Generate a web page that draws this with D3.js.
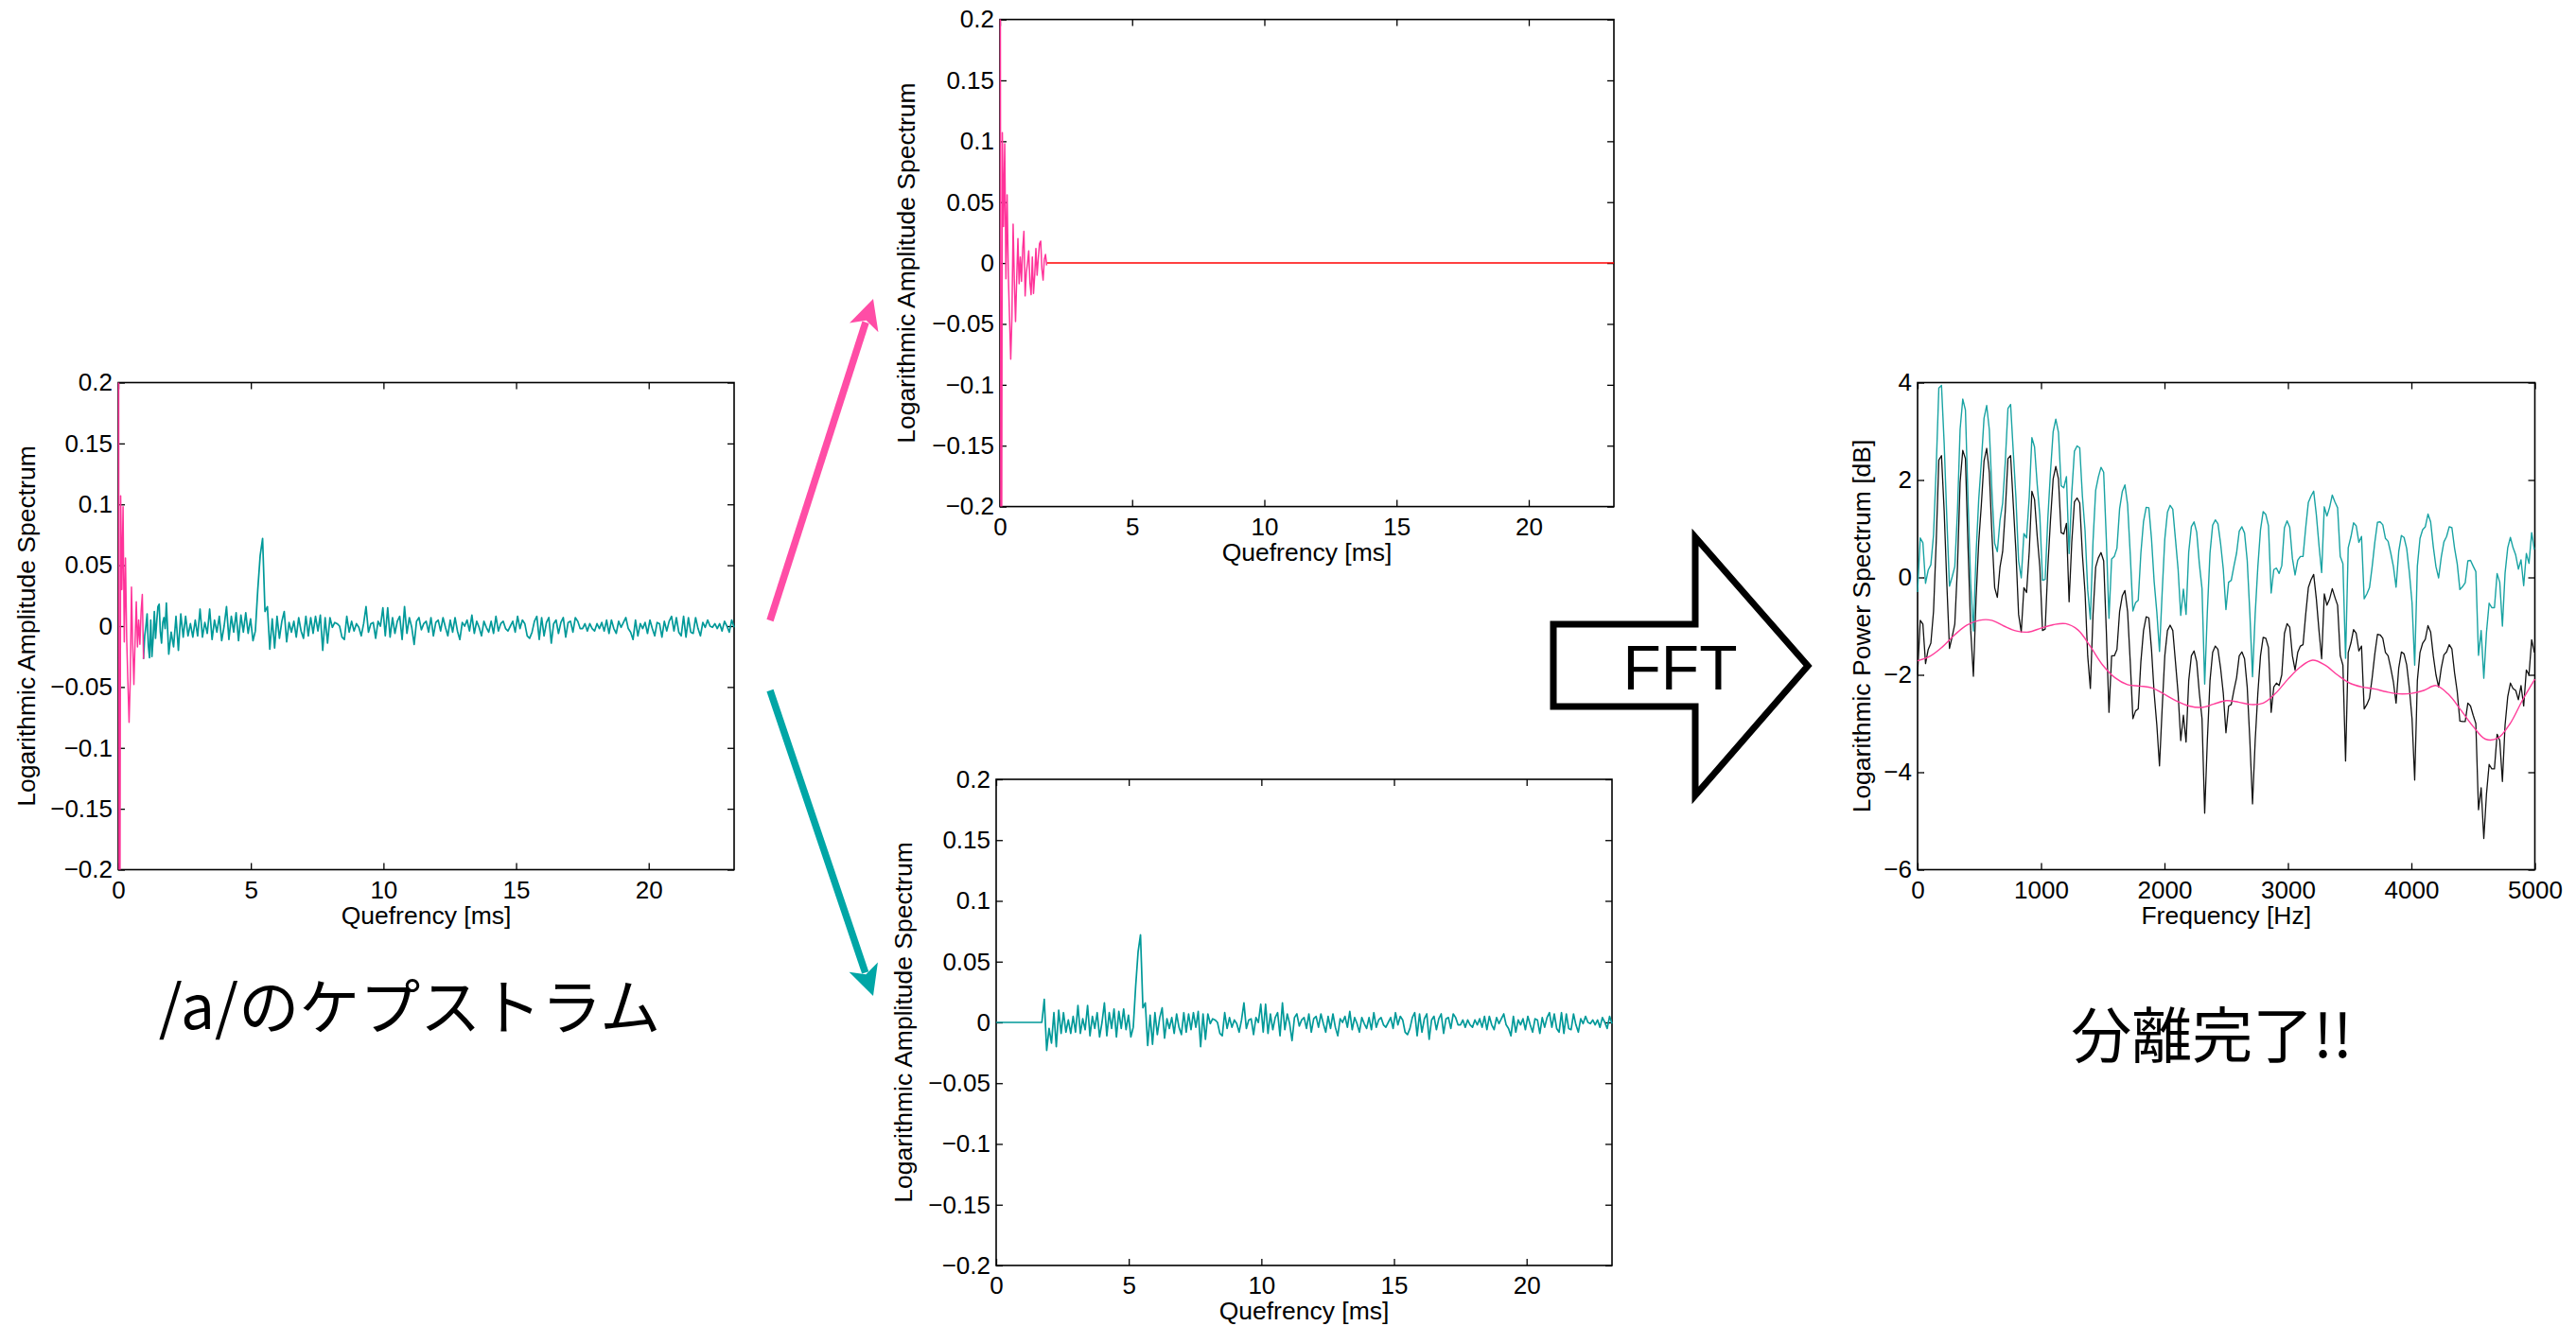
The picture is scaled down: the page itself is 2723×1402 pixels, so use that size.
<!DOCTYPE html>
<html>
<head>
<meta charset="utf-8">
<title>cepstrum liftering</title>
<script src="https://d3js.org/d3.v7.min.js"></script>
<style>
  body { margin: 0; background: #fff; }
  svg { display: block; }
  .tick text { font-family: "Liberation Sans", Arial, sans-serif; font-size: 26px; fill: #000; }
  .tick line { stroke: #000; stroke-width: 1.3; }
  .axis-label { font-family: "Liberation Sans", Arial, sans-serif; font-size: 26.5px; fill: #000; }
  .jp { font-family: "Noto Sans CJK JP", sans-serif; font-size: 64px; fill: #000; }
</style>
</head>
<body>
<script>
// sampling
var fs = 44100;
var dq = 1000 / fs;        // ms per cepstrum sample
var df = fs / 2048;        // Hz per spectrum bin

// cepstrum of /a/, low quefrency part: every 2nd sample from 0
var cepLow = [0.6, -0.5, 0.107, 0.03, 0.098, -0.013, 0.056, -0.01, -0.045, -0.079,
  -0.044, 0.032, -0.015, -0.048, -0.012, 0.02, -0.017, 0.005, -0.015, 0.012,
  0.026, -0.027, -0.008, 0.0, 0.01, -0.016, -0.026, 0.005, -0.025, -0.01,
  0.012, -0.01, 0.004, 0.016, 0.018, -0.005, -0.014, 0.003, 0.007, -0.002];
var leftPinkEnd = 21;      // left panel: cepLow[0..21] drawn pink

// rest of the cepstrum: every 4th sample from sample 80
var cepHighStart = 80;
var cepHigh = [
  0.019, -0.023, -0.005, -0.017, 0.008, -0.020, 0.010, -0.009, 0.008, -0.008,
  0.002, -0.009, 0.005, -0.008, 0.014, -0.009, 0.003, -0.006, 0.014, -0.011,
  0.005, -0.005, 0.008, -0.012, 0.0, 0.016, -0.011, 0.008, -0.005, 0.011,
  -0.012, 0.009, -0.005, 0.011, -0.006, 0.006, -0.012, -0.004,
  0.03, 0.058, 0.072, 0.012, 0.016,
  -0.019, 0.006, -0.018, 0.008, -0.010, 0.004, 0.012, -0.013, 0.003, -0.005,
  0.004, -0.009, 0.007, -0.004, -0.010, 0.008, -0.008, 0.007, -0.006, 0.008,
  -0.004, 0.009, -0.020, 0.007, -0.014, 0.007, -0.001, 0.003, 0.002, 0.0,
  -0.009, -0.011, 0.008, -0.005, 0.004, -0.004, 0.002, -0.001, -0.008, 0.002,
  0.016, -0.005, 0.002, 0.003, -0.010, 0.004, 0.0, 0.015, -0.008, 0.015,
  -0.009, 0.007, -0.006, 0.004, 0.008, -0.011, 0.016, -0.006, 0.007, -0.001,
  -0.015, 0.004, 0.007, -0.003, 0.002,
  0.004, -0.005, 0.007, -0.008, 0.003, 0.005, -0.004, 0.007, -0.001, -0.008,
  0.005, -0.005, 0.007, -0.004, -0.011, 0.003, 0.0, 0.005, -0.004, 0.009,
  -0.006, 0.004, -0.001, -0.008, 0.004, -0.001, -0.005, 0.004, -0.006, 0.008,
  -0.004, 0.002, 0.004, -0.002, -0.004, 0.0, 0.004, -0.005, 0.008, -0.002,
  0.005, 0.002, -0.008, -0.010, -0.005, 0.004, 0.008, -0.011, 0.007, -0.008,
  0.003, 0.007, -0.014, 0.002, 0.005, -0.006, 0.003, 0.007, -0.009, 0.003,
  0.004, -0.005, 0.007, 0.004, -0.002,
  -0.002, 0.002, -0.004, 0.002, -0.002, -0.004, 0.002, -0.002, 0.003, -0.004,
  0.005, -0.006, 0.005, -0.002, -0.006, 0.004, -0.001, 0.003, 0.007, -0.002,
  -0.005, -0.011, 0.005, -0.008, 0.002, -0.002, 0.003, -0.006, 0.005, -0.002,
  -0.008, 0.003, 0.002, -0.009, 0.004, -0.004, 0.004, 0.008, -0.004, 0.007,
  -0.005, -0.008, 0.008, -0.009, 0.007, -0.005, -0.006, 0.007, -0.002, -0.008,
  0.003, -0.001, 0.005, 0.0, -0.001, 0.002, -0.002, 0.002, -0.004, 0.004,
  0.0, -0.005, 0.005, -0.001];

var cepXTicks = [0, 5, 10, 15, 20];
var cepYTicks = [-0.2, -0.15, -0.1, -0.05, 0, 0.05, 0.1, 0.15, 0.2];

// log power spectrum (black), bins of df from 0 Hz
var specLog = [
  -2.0, -0.88, -0.96, -1.77, -1.48, -1.35, -0.70, 0.72, 2.41, 2.50,
  1.37, -0.12, -1.46, -1.22, -0.96, 0.21, 1.95, 2.61, 2.44, 0.59,
  -1.09, -2.03, -0.44, 0.72, 1.50, 2.39, 2.65, 2.15, 0.85, -0.21,
  -0.41, 0.21, 0.53, 1.37, 2.44, 2.50, 1.50, 0.53, -0.76, -1.12,
  -0.21, -0.31, 0.53, 1.77, 1.60, 0.85, 0.21, -1.09, -1.06, 0.21,
  1.18, 2.02, 2.28, 2.02, 0.92, 0.89, 1.11, -0.50, 0.72, 1.55,
  1.63, 1.53, 0.47, -0.31, -1.61, -2.28, -0.76, 0.21, 0.40, 0.51,
  0.34, -1.09, -2.77, -1.61, -1.61, -1.48, -0.70, -0.38, -0.27, -0.70,
  -1.73, -2.90, -2.74, -2.70, -1.73, -1.09, -0.81, -0.83, -1.48, -2.38,
  -3.03, -3.87, -2.70, -1.61, -1.09, -0.98, -1.09, -1.73, -2.38, -3.35,
  -2.83, -3.38, -2.12, -1.61, -1.51, -1.73, -2.38, -2.90, -4.84, -3.35,
  -2.12, -1.54, -1.41, -1.48, -1.87, -2.38, -3.19, -2.64, -2.61, -2.32,
  -2.06, -1.61, -1.53, -1.67, -2.25, -3.35, -4.65, -3.35, -2.38, -1.61,
  -1.23, -1.25, -1.44, -2.77, -2.25, -2.17, -2.22, -2.00, -1.15, -0.95,
  -1.02, -1.61, -1.90, -1.54, -1.41, -1.38, -0.76, -0.21, -0.05, 0.06,
  -0.44, -1.09, -1.67, -0.34, -0.57, -0.44, -0.23, -0.41, -0.57, -1.61,
  -1.80, -3.77, -1.54, -1.35, -1.07, -1.15, -1.51, -1.41, -2.70, -2.61,
  -2.48, -2.06, -1.57, -1.17, -1.18, -1.25, -1.54, -1.61, -1.86, -2.15,
  -2.58, -1.86, -1.53, -1.57, -1.80, -2.28, -2.90, -4.16, -2.12, -1.54,
  -1.35, -1.27, -0.99, -1.12, -1.61, -2.00, -2.25, -1.86, -1.59, -1.53,
  -1.38, -1.47, -1.96, -2.35, -2.95, -2.96, -2.96, -2.58, -2.64, -2.83,
  -3.00, -4.77, -4.32, -5.36, -4.45, -3.84, -3.93, -3.93, -3.22, -3.35,
  -4.19, -3.03, -2.45, -2.17, -2.28, -2.32, -2.51, -2.22, -2.64, -1.90,
  -2.00, -1.28, -1.54];

// fine structure (teal), same bins
var specFine = [
  -0.30, 0.81, 0.71, -0.12, 0.15, 0.26, 0.87, 2.24, 3.89, 3.94,
  2.76, 1.22, -0.18, 0.01, 0.22, 1.34, 3.04, 3.66, 3.44, 1.56,
  -0.14, -1.10, 0.47, 1.60, 2.38, 3.27, 3.53, 3.03, 1.73, 0.70,
  0.53, 1.17, 1.52, 2.38, 3.47, 3.55, 2.58, 1.63, 0.34, -0.01,
  0.90, 0.81, 1.65, 2.87, 2.68, 1.91, 1.26, -0.06, -0.04, 1.21,
  2.17, 2.99, 3.25, 2.98, 1.88, 1.84, 2.07, 0.49, 1.73, 2.59,
  2.70, 2.66, 1.67, 0.96, -0.26, -0.86, 0.74, 1.79, 2.06, 2.26,
  2.16, 0.79, -0.84, 0.38, 0.43, 0.60, 1.41, 1.76, 1.90, 1.50,
  0.48, -0.69, -0.52, -0.47, 0.50, 1.15, 1.44, 1.43, 0.79, -0.09,
  -0.71, -1.52, -0.32, 0.79, 1.34, 1.48, 1.40, 0.79, 0.17, -0.78,
  -0.24, -0.76, 0.52, 1.04, 1.14, 0.93, 0.28, -0.23, -2.19, -0.71,
  0.50, 1.07, 1.18, 1.10, 0.69, 0.17, -0.66, -0.10, -0.06, 0.23,
  0.50, 0.95, 1.04, 0.91, 0.35, -0.74, -2.04, -0.75, 0.22, 0.98,
  1.35, 1.29, 1.06, -0.32, 0.16, 0.19, 0.08, 0.24, 1.02, 1.16,
  1.03, 0.39, 0.05, 0.35, 0.43, 0.43, 1.02, 1.54, 1.67, 1.77,
  1.29, 0.66, 0.10, 1.45, 1.26, 1.44, 1.69, 1.55, 1.43, 0.43,
  0.28, -1.66, 0.61, 0.83, 1.12, 1.06, 0.72, 0.84, -0.44, -0.34,
  -0.21, 0.22, 0.72, 1.13, 1.14, 1.08, 0.80, 0.74, 0.50, 0.22,
  -0.20, 0.53, 0.86, 0.82, 0.59, 0.10, -0.52, -1.80, 0.23, 0.80,
  0.98, 1.04, 1.30, 1.14, 0.63, 0.22, -0.01, 0.42, 0.73, 0.84,
  1.04, 1.02, 0.60, 0.28, -0.25, -0.19, -0.11, 0.34, 0.35, 0.23,
  0.12, -1.60, -1.09, -2.07, -1.13, -0.53, -0.62, -0.62, 0.08, -0.10,
  -1.00, 0.09, 0.61, 0.82, 0.61, 0.46, 0.17, 0.36, -0.17, 0.49,
  0.29, 0.92, 0.57];

// spectral envelope (pink), every 100 Hz from 0
var envStep = 100;
var envelope = [
  -1.71, -1.62, -1.43, -1.18, -0.98, -0.88, -0.88, -1.00, -1.10, -1.12,
  -1.04, -0.97, -0.95, -1.08, -1.42, -1.80, -2.06, -2.20, -2.23, -2.27,
  -2.40, -2.54, -2.64, -2.67, -2.60, -2.53, -2.56, -2.61, -2.58, -2.38,
  -2.09, -1.84, -1.70, -1.80, -2.00, -2.17, -2.25, -2.29, -2.35, -2.39,
  -2.38, -2.32, -2.22, -2.40, -2.72, -3.06, -3.32, -3.30, -3.00, -2.52,
  -2.09];

var specXTicks = [0, 1000, 2000, 3000, 4000, 5000];
var specYTicks = [-6, -4, -2, 0, 2, 4];

var W = 2723, H = 1402;
var teal = "#009999", pink = "#ff3399";

var svg = d3.select("body").append("svg").attr("width", W).attr("height", H);
svg.append("rect").attr("width", W).attr("height", H).attr("fill", "#fff");

var fmt = d3.format("~g");
var clipId = 0;

function panel(box, xDomain, yDomain, xTicks, yTicks, xLabel, yLabel, yLabelOff) {
  var g = svg.append("g").attr("transform", "translate(" + box.left + "," + box.top + ")");
  var x = d3.scaleLinear().domain(xDomain).range([0, box.width]);
  var y = d3.scaleLinear().domain(yDomain).range([box.height, 0]);

  g.append("g").attr("transform", "translate(0," + box.height + ")")
    .call(d3.axisBottom(x).tickValues(xTicks).tickFormat(fmt).tickSize(-7).tickPadding(12));
  g.append("g").call(d3.axisTop(x).tickValues(xTicks).tickFormat("").tickSize(-7));
  g.append("g").call(d3.axisLeft(y).tickValues(yTicks).tickFormat(fmt).tickSize(-7).tickPadding(6));
  g.append("g").attr("transform", "translate(" + box.width + ",0)")
    .call(d3.axisRight(y).tickValues(yTicks).tickFormat("").tickSize(-7));
  g.selectAll(".domain").remove();

  g.append("rect").attr("width", box.width).attr("height", box.height)
    .attr("fill", "none").attr("stroke", "#000").attr("stroke-width", 1.6);

  g.append("text").attr("class", "axis-label")
    .attr("x", box.width / 2).attr("y", box.height + 57)
    .attr("text-anchor", "middle").text(xLabel);
  g.append("text").attr("class", "axis-label")
    .attr("transform", "translate(" + (-yLabelOff) + "," + (box.height / 2) + ") rotate(-90)")
    .attr("text-anchor", "middle").text(yLabel);

  var id = "clip" + (clipId++);
  g.append("clipPath").attr("id", id).append("rect")
    .attr("x", -1).attr("y", 0).attr("width", box.width + 2).attr("height", box.height);
  var plot = g.append("g").attr("clip-path", "url(#" + id + ")");
  var line = d3.line().x(function(d) { return x(d[0]); }).y(function(d) { return y(d[1]); });

  return { plot: plot, line: line, x: x, y: y };
}

function draw(p, pts, color, width, curve) {
  var ln = curve ? p.line.curve(curve) : p.line.curve(d3.curveLinear);
  p.plot.append("path").datum(pts).attr("d", ln)
    .attr("fill", "none").attr("stroke", color).attr("stroke-width", width)
    .attr("stroke-linejoin", "round");
}

var lowPts = cepLow.map(function(v, i) { return [2 * i * dq, v]; });
var highPts = cepHigh.map(function(v, j) { return [(cepHighStart + 4 * j) * dq, v]; });
var qMax = 1024 * dq;
var cepYLabel = "Logarithmic Amplitude Spectrum";

// left: full cepstrum
var pA = panel({left: 125, top: 404.5, width: 651, height: 515}, [0, qMax], [-0.2, 0.2],
  cepXTicks, cepYTicks, "Quefrency [ms]", cepYLabel, 88);
draw(pA, lowPts.slice(leftPinkEnd).concat(highPts), teal, 1.7);
draw(pA, lowPts.slice(0, leftPinkEnd + 1), pink, 1.5);

// top middle: low quefrency part
var pB = panel({left: 1057, top: 20.6, width: 649, height: 515}, [0, qMax], [-0.2, 0.2],
  cepXTicks, cepYTicks, "Quefrency [ms]", cepYLabel, 90);
var lastLow = lowPts[lowPts.length - 1][0];
draw(pB, [[lastLow, 0], [qMax, 0]], "#ff0000", 1.5);
draw(pB, lowPts, pink, 1.5);

// bottom middle: high quefrency part
var pC = panel({left: 1053, top: 824, width: 651, height: 514}, [0, qMax], [-0.2, 0.2],
  cepXTicks, cepYTicks, "Quefrency [ms]", cepYLabel, 89);
draw(pC, [[0, 0], [(cepHighStart - 4) * dq, 0]].concat(highPts), teal, 1.7);

// right: spectra
var pD = panel({left: 2027, top: 404.5, width: 652.5, height: 515}, [0, 5000], [-6, 4],
  specXTicks, specYTicks, "Frequency [Hz]", "Logarithmic Power Spectrum [dB]", 50);
draw(pD, specFine.map(function(v, k) { return [k * df, v]; }), "#19a3a3", 1.4);
draw(pD, specLog.map(function(v, k) { return [k * df, v]; }), "#111", 1.3);
draw(pD, envelope.map(function(v, k) { return [k * envStep, v]; }), "#ff3d9a", 1.4, d3.curveCatmullRom);

// split arrows
function arrow(x1, y1, x2, y2, color) {
  var a = Math.atan2(y2 - y1, x2 - x1), len = 32, half = 16;
  var bx = x2 - len * Math.cos(a), by = y2 - len * Math.sin(a);
  svg.append("line").attr("x1", x1).attr("y1", y1)
    .attr("x2", x2 - (len - 6) * Math.cos(a)).attr("y2", y2 - (len - 6) * Math.sin(a))
    .attr("stroke", color).attr("stroke-width", 7.5);
  var nx = -Math.sin(a), ny = Math.cos(a);
  svg.append("polygon")
    .attr("points", [[x2, y2], [bx + nx * half, by + ny * half],
      [x2 - (len - 8) * Math.cos(a), y2 - (len - 8) * Math.sin(a)],
      [bx - nx * half, by - ny * half]].map(function(p) { return p.join(","); }).join(" "))
    .attr("fill", color);
}
arrow(814, 656, 923, 316, "#ff4da6");
arrow(814, 730, 923, 1053, "#00a6a6");

// FFT block arrow
svg.append("polygon")
  .attr("points", "1642,660 1792,660 1792,568 1911,704 1792,841 1792,747 1642,747")
  .attr("fill", "#fff").attr("stroke", "#000").attr("stroke-width", 7)
  .attr("stroke-linejoin", "miter");
svg.append("text").attr("x", 1776).attr("y", 729).attr("text-anchor", "middle")
  .attr("font-family", "'Liberation Sans', Arial, sans-serif").attr("font-size", 66)
  .text("FFT");

// captions
svg.append("text").attr("class", "jp").attr("x", 433).attr("y", 1088)
  .attr("text-anchor", "middle").text("/a/のケプストラム");
svg.append("text").attr("class", "jp").attr("x", 2338).attr("y", 1118)
  .attr("text-anchor", "middle").text("分離完了!!");
</script>
</body>
</html>
